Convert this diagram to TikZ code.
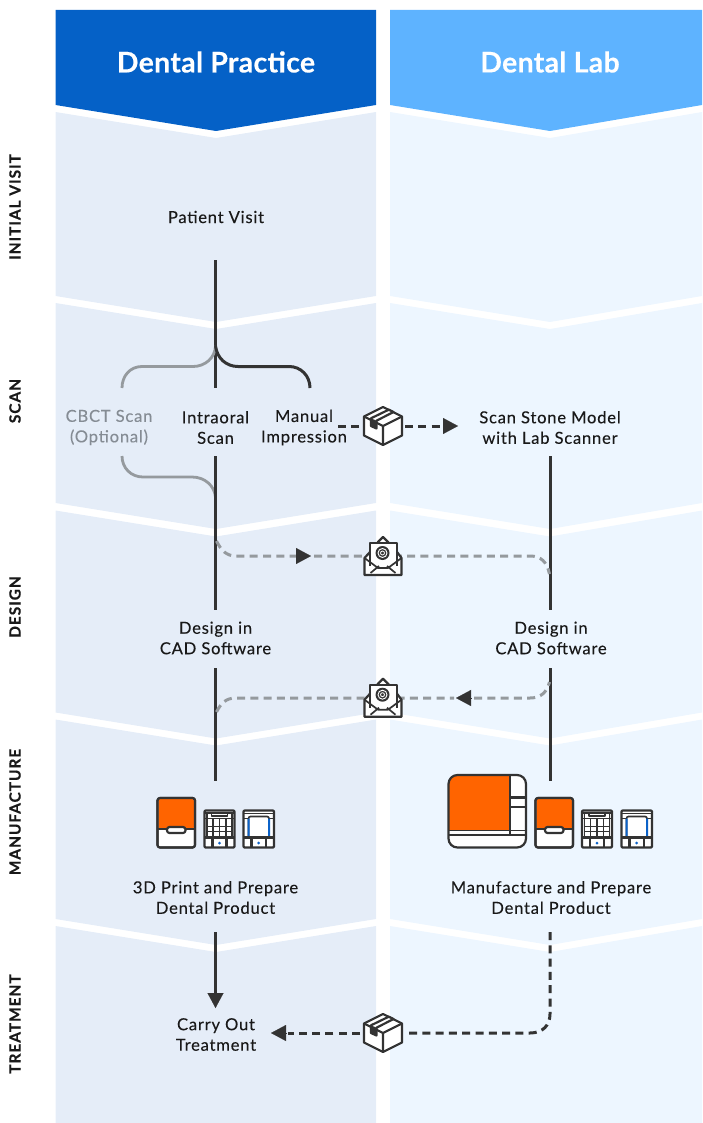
\documentclass[tikz,border=0pt]{standalone}
\usepackage{fontspec}
\setmainfont{Lato}
\newfontfamily\spaced[LetterSpace=4.6,FakeBold=0.12]{Lato}
\newfontfamily\stagefont[LetterSpace=6,FakeBold=0.4]{Lato Bold}
\newfontfamily\headfont[LetterSpace=1,FakeBold=0.2]{Lato Bold}
\usetikzlibrary{arrows.meta}
\definecolor{hdA}{HTML}{0561C7}
\definecolor{hdB}{HTML}{5EB3FF}
\definecolor{bandA}{HTML}{E5EDF8}
\definecolor{bandB}{HTML}{EDF6FF}
\definecolor{ink}{HTML}{333333}
\definecolor{soft}{HTML}{959A9E}
\definecolor{softtext}{HTML}{858C94}
\definecolor{orangefill}{HTML}{FF6400}
\definecolor{accent}{HTML}{0B62C8}
\tikzset{
  x=1pt,y=-1pt,
  label/.style={font=\spaced\fontsize{16.6}{20.5}\selectfont,text=black!90,align=center,inner sep=0pt},
  softlabel/.style={label,text=softtext},
  head/.style={font=\headfont\fontsize{28.5}{30}\selectfont,text=white,inner sep=0pt},
  stage/.style={font=\stagefont\fontsize{15.5}{17}\selectfont,text=black!90,rotate=90,inner sep=0pt},
  solidline/.style={draw=ink,line width=3pt},
  softline/.style={draw=soft,line width=2.8pt},
  dashdark/.style={draw=ink,line width=3pt,dash pattern=on 8pt off 5.3pt},
  dashsoft/.style={draw=soft,line width=3pt,dash pattern=on 8pt off 5.3pt},
  tip/.style={-{Triangle[length=15pt,width=16pt]},ink,line width=0.1pt},
  iconline/.style={draw=ink,line width=2.2pt,line join=round},
  thinline/.style={draw=ink,line width=1.7pt,line join=round},
  pics/parcel/.style={code={
    \path[iconline,fill=white] (0,-19)--(19,-9.5)--(19,9.5)--(0,19)--(-19,9.5)--(-19,-9.5)--cycle;
    \path[iconline] (-19,-9.5)--(0,0)--(19,-9.5) (0,0)--(0,19);
    \path[iconline,fill=white] (-12,-7.7)--(5.7,-16.3)--(10.5,-14)--(-6.5,-5.3)--(-6.5,2.5)--(-12,0)--cycle;
    \fill[ink] (-12,-7.7)--(-6.5,-5.3)--(-6.5,2.5)--(-12,0)--cycle;
  }},
  pics/mail/.style={code={
    \path[iconline,fill=white] (-18.5,1)--(-13,-5)--(-5,-15)--(0,-20)--(5,-15)--(14,-5)--(18.5,1)--(18.5,18)--(-18.5,18)--cycle;
    \path[iconline,fill=white] (-13,9)--(-13,-14)--(14,-14)--(14,9);
    \path[thinline] (-18.5,1)--(-5,11)--(5,11)--(18.5,1) (-12.5,16)--(-4,9) (12.5,16)--(4,9);
    \fill[ink] (-.5,-4) circle (7);
    \draw[white,line width=.9pt] (-.5,-4) circle (4.5);
    \draw[white,line width=.8pt] (-.5,-4) circle (2);
  }},
  pics/printer/.style={code={
    \path[iconline,fill=white,rounded corners=2.5pt] (0,0) rectangle (37.5,49.5);
    \path[fill=orangefill,rounded corners=2pt] (1,1) rectangle (36.5,31);
    \path[iconline,rounded corners=2.5pt] (0,0) rectangle (37.5,49.5);
    \path[iconline] (0,31)--(9.5,31) (28,31)--(37.5,31);
    \path[iconline,fill=white,rounded corners=2.5pt] (9.5,29) rectangle (28,35);
  }},
  pics/wash/.style={code={
    \path[iconline,fill=white,rounded corners=1pt] (0,0) rectangle (30,37);
    \path[thinline] (0,2.5)--(30,2.5) (2.5,2.5)--(2.5,27) (27.5,2.5)--(27.5,27)
      (7,3)--(7,5.5)--(23,5.5)--(23,3) (0,8)--(30,8);
    \path[thinline] (8.5,8)--(8.5,27) (15,8)--(15,27) (21.5,8)--(21.5,27)
      (2.5,16)--(27.5,16) (2.5,21)--(27.5,21);
    \path[iconline] (0,27)--(30,27) (8,27)--(8,37) (22,27)--(22,37);
    \fill[accent] (15,32.5) circle (1.5);
  }},
  pics/cure/.style={code={
    \path[iconline,fill=white,rounded corners=1pt] (0,0) rectangle (30.5,37);
    \path[thinline] (0,3)--(30.5,3) (0,8)--(4,8) (26.5,8)--(30.5,8);
    \path[thinline,rounded corners=2pt] (5,26.5)--(5,6)--(25.5,6)--(25.5,26.5);
    \fill[accent] (4,8) rectangle (6,26.5) (24.5,8) rectangle (26.5,26.5);
    \path[iconline] (0,27)--(30.5,27) (8,27)--(8,37) (22.5,27)--(22.5,37);
    \fill[accent] (15.2,32.5) circle (1.5);
  }},
  pics/mill/.style={code={
    \path[fill=white,rounded corners=9pt] (0,0) rectangle (77.5,72.5);
    \begin{scope}
      \clip[rounded corners=9pt] (0,0) rectangle (77.5,72.5);
      \fill[orangefill] (0,0) rectangle (61.5,55.5);
    \end{scope}
    \path[iconline] (61.5,0)--(61.5,60) (61.5,22.5)--(77.5,22.5) (61.5,32)--(77.5,32);
    \path[thinline] (0,55.5)--(77.5,55.5) (0,60)--(77.5,60);
    \path[iconline,rounded corners=9pt] (0,0) rectangle (77.5,72.5);
  }}
}
\begin{document}
\begin{tikzpicture}
\useasboundingbox (0,0) rectangle (702,1123);
% columns
\fill[hdA] (55.5,10)--(376,10)--(376,105)--(216,131)--(55.5,105)--cycle;
\fill[hdB] (390,10)--(702,10)--(702,105)--(550,131)--(390,105)--cycle;
\foreach \ts/\tc/\bs/\bc in {112/138/296/322,303/329/503/529,510.5/536.5/712.5/738.5,719.5/745.5/919/945}{
  \fill[bandA] (55.5,\ts)--(216,\tc)--(376,\ts)--(376,\bs)--(216,\bc)--(55.5,\bs)--cycle;
  \fill[bandB] (390,\ts)--(550,\tc)--(702,\ts)--(702,\bs)--(550,\bc)--(390,\bs)--cycle;
}
\fill[bandA] (55.5,926)--(216,952)--(376,926)--(376,1123)--(55.5,1123)--cycle;
\fill[bandB] (390,926)--(550,952)--(702,926)--(702,1123)--(390,1123)--cycle;
% headings
\node[head] (hpractice) at (216,62) {Dental Practice};
\node[head] (hlab) at (550,62) {Dental Lab};
\node[stage] (s1) at (15,207) {INITIAL VISIT};
\node[stage] (s2) at (15,401) {SCAN};
\node[stage] (s3) at (15,607) {DESIGN};
\node[stage] (s4) at (15,812) {MANUFACTURE};
\node[stage] (s5) at (15,1024) {TREATMENT};
% labels
\node[label] (visit) at (216,217) {Patient Visit};
\node[softlabel] (cbct) at (109,427.5) {CBCT Scan\\(Optional)};
\node[label] (intra) at (215.5,427.5) {Intraoral\\Scan};
\node[label] (manual) at (304,427.5) {Manual\\Impression};
\node[label] (stone) at (550,427.5) {Scan Stone Model\\with Lab Scanner};
\node[label] (cadA) at (215.5,638) {Design in\\CAD Software};
\node[label] (cadB) at (551,638) {Design in\\CAD Software};
\node[label] (printA) at (215.5,897.5) {3D Print and Prepare\\Dental Product};
\node[label] (printB) at (551,897.5) {Manufacture and Prepare\\Dental Product};
\node[label] (treat) at (216,1034.5) {Carry Out\\Treatment};
% connector end points
\coordinate (v1) at (215.5,260);
\coordinate (v2) at (215.5,388);
\coordinate (fork) at (215.5,346);
\coordinate (cbctTop) at (122,388);
\coordinate (manTop) at (310,388);
\coordinate (intraOut) at (215.5,456);
\coordinate (cbctOut) at (122,456);
\coordinate (joinA) at (215.5,497);
\coordinate (cadAin) at (215.5,610);
\coordinate (cadAout) at (215.5,668);
\coordinate (prA) at (215.5,781);
\coordinate (stoneOut) at (550,456);
\coordinate (cadBin) at (550,610);
\coordinate (cadBout) at (550,668);
\coordinate (prB) at (550,781);
\coordinate (prAout) at (215.5,932);
\coordinate (treatIn) at (215.5,1008);
\coordinate (prBout) at (550,932);
\coordinate (boxA) at (383,426);
\coordinate (mailA) at (383,557);
\coordinate (mailB) at (383,698.7);
\coordinate (boxB) at (383,1033);
% solid
\draw[solidline] (v1)--(v2);
\draw[softline,line cap=butt] (fork) .. controls (215,358) and (205,366.5) .. (193,366.5) -- (142,366.5) .. controls (130,366.5) and (122,376) .. (cbctTop);
\draw[solidline] (fork) .. controls (217,358) and (226,366.5) .. (238,366.5) -- (289,366.5) .. controls (301,366.5) and (310,376) .. (manTop);
\draw[softline] (cbctOut) .. controls (122,468) and (131,477) .. (143,477) -- (192,477) .. controls (205,477) and (214.5,486) .. (joinA);
\draw[solidline] (intraOut)--(cadAin);
\draw[solidline] (cadAout)--(prA);
\draw[solidline] (stoneOut)--(cadBin);
\draw[solidline] (cadBout)--(prB);
\draw[solidline] (prAout)--(215.5,994);
\draw[tip] (215.5,992)--(treatIn);
% dashed
\draw[dashdark] (338,426)--(360,426);
\draw[dashdark] (405,426)--(444,426);
\draw[tip] (443,426)--(458,426);
\draw[dashsoft] (216.5,541) .. controls (221,550) and (226,556) .. (236,556)--(296,556);
\draw[tip] (296,556)--(311,556);
\draw[dashsoft] (314,556)--(530,556) .. controls (541,556) and (547,562) .. (549.5,574);
\draw[dashsoft] (216.5,712) .. controls (221,703) and (226,698) .. (236,698)--(454,698);
\draw[tip] (471,698)--(456,698);
\draw[dashsoft] (474,698)--(530,698) .. controls (541,698) and (547,692) .. (549.5,682);
\draw[dashdark] (prBout)--(550,1014) .. controls (550,1025) and (543,1033) .. (530,1033)--(405,1033);
\draw[dashdark] (360,1033)--(288,1033);
\draw[tip] (286,1033)--(271,1033);
% icons
\pic at (boxA) {parcel};
\pic at (boxB) {parcel};
\pic at (mailA) {mail};
\pic at (mailB) {mail};
\path (157.5,798) pic {printer};
\path (204.5,810.5) pic {wash};
\path (243.5,810.5) pic {cure};
\path (448.5,775) pic {mill};
\path (535.5,798) pic {printer};
\path (582,810.5) pic {wash};
\path (621.5,810.5) pic {cure};
\end{tikzpicture}
\end{document}
